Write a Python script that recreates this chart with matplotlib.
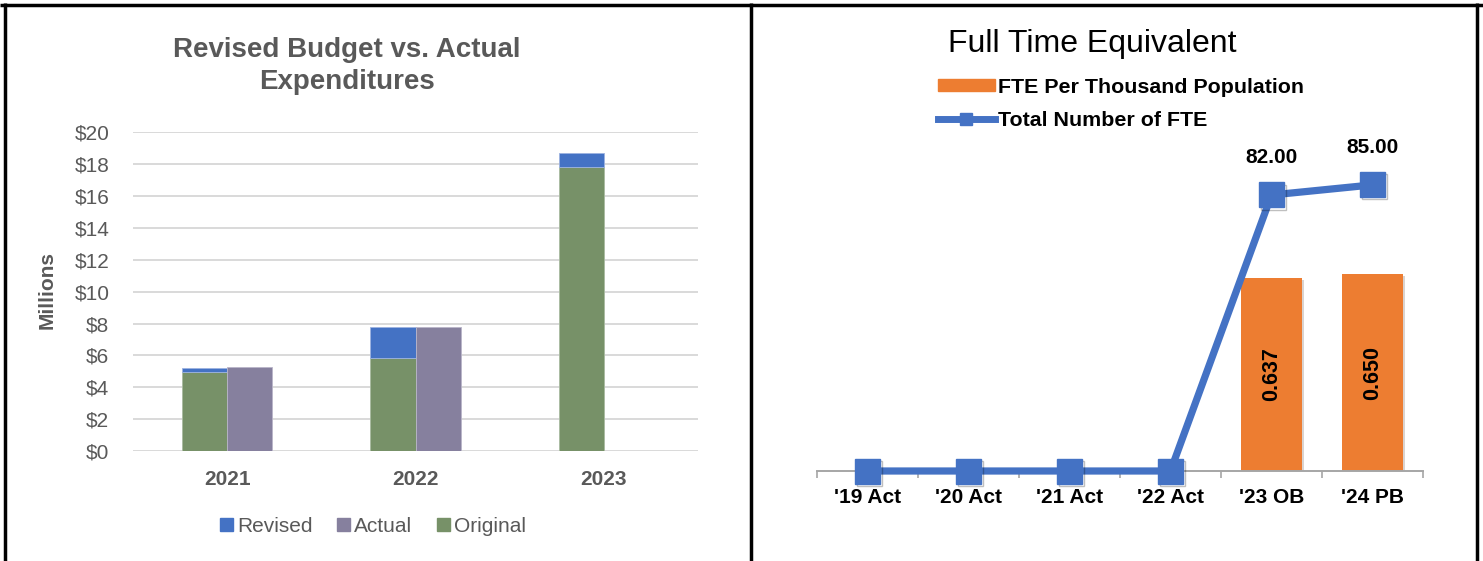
import matplotlib
matplotlib.use("Agg")
import matplotlib.pyplot as plt
from matplotlib.patches import Patch
from matplotlib.lines import Line2D
import matplotlib.patheffects as pe
import numpy as np

plt.rcParams['font.family'] = ['Liberation Sans', 'DejaVu Sans']

# ---------------- data ----------------
budget_years = ["2021", "2022", "2023"]
original = [4.98, 5.86, 17.85]
revised = [5.19, 7.80, 18.72]
actual = [5.29, 7.80, None]
budget_ticks = list(range(0, 21, 2))

fte_categories = ["'19 Act", "'20 Act", "'21 Act", "'22 Act", "'23 OB", "'24 PB"]
fte_per_thousand = [0, 0, 0, 0, 0.637, 0.650]
fte_total = [0, 0, 0, 0, 82.00, 85.00]

# ---------------- colours ----------------
C_REV = "#4472C4"
C_ACT = "#86809E"
C_ORIG = "#779168"
C_ORANGE = "#ED7D31"
C_GRID = "#D9D9D9"
C_TXT = "#595959"

W, H = 1483, 561
fig = plt.figure(figsize=(W / 100, H / 100), dpi=100)
fx = lambda px: px / W
fy = lambda py: 1 - py / H

# ---------------- left chart ----------------
ax1 = fig.add_axes([fx(133), fy(451), fx(698) - fx(133), (451 - 132.3) / H])
x = np.arange(len(budget_years))
bw = 0.239
orig_arr = np.array(original)
rev_inc = np.array(revised) - orig_arr
ax1.bar(x - bw / 2, orig_arr, width=bw, color=C_ORIG, edgecolor="#A9BBA0", linewidth=0.6, zorder=3)
ax1.bar(x - bw / 2, rev_inc, bottom=orig_arr, width=bw, color=C_REV, edgecolor="#9DB3E0", linewidth=0.6, zorder=3)
act_x = [xi + bw / 2 for xi, a in zip(x, actual) if a is not None]
act_v = [a for a in actual if a is not None]
ax1.bar(act_x, act_v, width=bw, color=C_ACT, edgecolor="#B9B5C9", linewidth=0.6, zorder=3)

ax1.set_xlim(-0.5, 2.5)
ax1.set_ylim(0, 20)
ax1.set_yticks(budget_ticks)
ax1.set_yticklabels([f"${t}" for t in budget_ticks], fontsize=15, color=C_TXT)
ax1.set_xticks(x)
ax1.set_xticklabels(budget_years, fontsize=15, fontweight="bold", color=C_TXT)
ax1.tick_params(axis="both", length=0)
ax1.tick_params(axis="y", pad=17)
ax1.tick_params(axis="x", pad=14)
ax1.grid(axis="y", color=C_GRID, linewidth=1.4, zorder=0)
for s in ax1.spines.values():
    s.set_visible(False)

fig.text(fx(47), fy(290), "Millions", rotation=90, ha="center", va="center",
         fontsize=15, fontweight="bold", color=C_TXT)
fig.text(fx(347), fy(66), "Revised Budget vs. Actual\nExpenditures", ha="center", va="center",
         fontsize=20, fontweight="bold", color=C_TXT, linespacing=1.28)

leg1 = fig.legend(handles=[Patch(color=C_REV, label="Revised"),
                           Patch(color=C_ACT, label="Actual"),
                           Patch(color=C_ORIG, label="Original")],
                  loc="center", bbox_to_anchor=(fx(373), fy(526)), ncol=3, frameon=False,
                  fontsize=15, handlelength=0.6, handleheight=0.6, handletextpad=0.2,
                  columnspacing=1.2, borderaxespad=0)
for t in leg1.get_texts():
    t.set_color(C_TXT)

# ---------------- right chart ----------------
ax2 = fig.add_axes([fx(817), fy(471), fx(1423) - fx(817), (471 - 134.4) / H])
xc = np.arange(len(fte_categories))
ax2.bar(xc, fte_per_thousand, width=0.6, color=C_ORANGE, zorder=2,
        path_effects=[pe.SimplePatchShadow(offset=(1.5, -1.5), alpha=0.2), pe.Normal()])
ax2.set_xlim(-0.5, len(fte_categories) - 0.5)
ax2.set_ylim(0, 1.111)
ax2.set_yticks([])
ax2.set_xticks(xc)
ax2.set_xticklabels(fte_categories, fontsize=15, fontweight="bold", color="black")
ax2.tick_params(axis="x", which="major", length=0, pad=12)
ax2.set_xticks(np.arange(-0.5, len(fte_categories)), minor=True)
ax2.tick_params(axis="x", which="minor", length=5, width=1.2, color="#A6A6A6", direction="out")
for k, s in ax2.spines.items():
    s.set_visible(k == "bottom")
ax2.spines["bottom"].set_color("#A6A6A6")
ax2.spines["bottom"].set_linewidth(1.4)
for xi, v in zip(xc, fte_per_thousand):
    if v > 0:
        ax2.text(xi, v / 2, f"{v:.3f}", rotation=90, ha="center", va="center",
                 fontsize=15.5, fontweight="bold", color="black", zorder=4)

ax3 = ax2.twinx()
ax3.set_ylim(0, 100)
ax3.set_yticks([])
for s in ax3.spines.values():
    s.set_visible(False)
ax3.plot(xc, fte_total, color=C_REV, linewidth=5.2, clip_on=False, zorder=5)
ax3.plot(xc, fte_total, linestyle="none", marker="s", markersize=18, color=C_REV,
         clip_on=False, zorder=6,
         path_effects=[pe.SimpleLineShadow(offset=(1.5, -1.5), alpha=0.25), pe.Normal()])
for xi, v in zip(xc, fte_total):
    if v > 0:
        ax3.annotate(f"{v:.2f}", (xi, v), xytext=(0, 27), textcoords="offset points",
                     ha="center", va="center", fontsize=15, fontweight="bold", color="black")

fig.text(fx(1092), fy(44), "Full Time Equivalent", ha="center", va="center",
         fontsize=23, color="black")

leg2 = fig.legend(handles=[Patch(color=C_ORANGE, label="FTE Per Thousand Population"),
                           Line2D([0], [0], color=C_REV, lw=5, marker="s", markersize=9,
                                  label="Total Number of FTE")],
                  loc="center left", bbox_to_anchor=(fx(938), fy(104)), frameon=False,
                  fontsize=15.4, handlelength=2.65, handleheight=0.5, handletextpad=0.15,
                  labelspacing=0.68, borderaxespad=0, borderpad=0)
for t in leg2.get_texts():
    t.set_fontweight("bold")

# ---------------- frame lines ----------------
kw = dict(transform=fig.transFigure, color="black", linewidth=2.5, solid_capstyle="butt")
fig.add_artist(Line2D([0, 1], [fy(4.5), fy(4.5)], **kw))
fig.add_artist(Line2D([fx(5), fx(5)], [0, fy(3)], **kw))
fig.add_artist(Line2D([fx(750.5), fx(750.5)], [0, fy(3)], **kw))
fig.add_artist(Line2D([fx(1477), fx(1477)], [0, fy(3)], **kw))

fig.savefig("out.png", dpi=100)
